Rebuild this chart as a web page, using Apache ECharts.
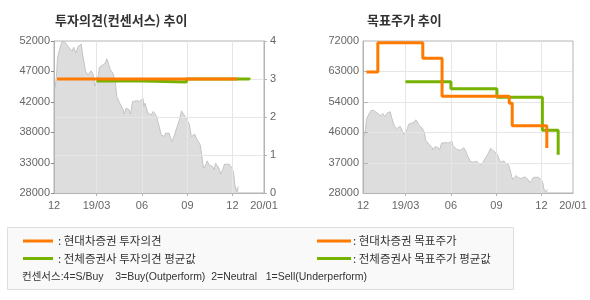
<!DOCTYPE html>
<html><head><meta charset="utf-8">
<script src="https://cdn.jsdelivr.net/npm/echarts@6/dist/echarts.min.js"></script>
<style>html,body{margin:0;padding:0;background:#fff}#c{width:590px;height:300px}</style>
</head><body><div id="c"></div>
<script>
// ---- data ----
const priceDates = ['2018-12-07','2018-12-10','2018-12-12','2018-12-17','2018-12-21','2018-12-26','2018-12-31','2019-01-04','2019-01-10','2019-01-14','2019-01-18','2019-01-23','2019-01-29','2019-02-01','2019-02-07','2019-02-12','2019-02-18','2019-02-22','2019-02-26','2019-03-01','2019-03-05','2019-03-07','2019-03-14','2019-03-19','2019-03-22','2019-03-26','2019-03-29','2019-04-03','2019-04-08','2019-04-11','2019-04-17','2019-04-24','2019-04-26','2019-04-30','2019-05-06','2019-05-09','2019-05-13','2019-05-17','2019-05-22','2019-05-27','2019-06-03','2019-06-05','2019-06-07','2019-06-13','2019-06-17','2019-06-20','2019-06-24','2019-06-27','2019-07-01','2019-07-03','2019-07-05','2019-07-10','2019-07-12','2019-07-16','2019-07-19','2019-07-23','2019-07-26','2019-07-31','2019-08-05','2019-08-09','2019-08-13','2019-08-16','2019-08-20','2019-08-23','2019-08-27','2019-08-30','2019-09-02','2019-09-05','2019-09-09','2019-09-11','2019-09-16','2019-09-19','2019-09-23','2019-09-25','2019-09-27','2019-09-30','2019-10-02','2019-10-04','2019-10-08','2019-10-11','2019-10-15','2019-10-18','2019-10-22','2019-10-25','2019-10-28','2019-11-01','2019-11-04','2019-11-07','2019-11-11','2019-11-15','2019-11-19','2019-11-25','2019-11-28','2019-12-02','2019-12-04','2019-12-06','2019-12-10','2019-12-12','2019-12-13'];
const priceValues = [44560,46410,49310,50890,51840,51950,51420,51680,50370,51000,50100,51160,51520,49830,47200,46670,47300,46780,44900,45620,46670,47840,48250,48520,49200,48250,47460,46940,45620,43250,42190,41130,40450,41400,41130,40450,42460,42190,42560,42460,42980,41670,42190,40610,40340,40340,40880,41130,40090,39300,38760,37180,37440,36920,37440,37180,37440,36130,36920,37970,38240,39550,40970,40610,40090,39820,39300,38760,36920,37180,37290,36650,36130,36230,35590,34010,32700,31910,32430,33060,32430,32700,32180,31640,32700,32970,31910,30960,31640,32540,32700,32540,32180,31640,30850,29270,28220,28470,29010];

const opinionDates = ['2018-12-11','2019-12-11'];
const opinionValues = [3, 3];
const avgOpinionDates = ['2019-03-01','2019-06-02','2019-08-30','2020-01-04'];
const avgOpinionValues = [2.95, 2.92, 3.0, 3.03];

const targetDates = ['2018-12-12','2019-01-04','2019-04-05','2019-05-14','2019-09-27','2019-10-03','2019-12-12'];
const targetValues = [63000, 71500, 67000, 56000, 54000, 47500, 41000];
const avgTargetDates = ['2019-03-01','2019-06-01','2019-09-02','2019-12-03','2020-01-04'];
const avgTargetValues = [60200, 58200, 55700, 46200, 39100];

const xStartDate = '2018-12-05';
const xEndDate = '2020-02-03';
const xGridDates = ['2019-03-01','2019-06-01','2019-09-01','2019-12-01'];
const xLabelDates = ['2018-12-05','2019-03-01','2019-06-01','2019-09-01','2019-12-01','2020-02-03'];
const xLabelTexts = ['12','19/03','06','09','12','20/01'];
const priceTicksLeft = [28000, 32800, 37600, 42400, 47200, 52000];
const opinionTicks = [0, 1, 2, 3, 4];
const priceTicksRight = [28000, 36800, 45600, 54400, 63200, 72000];

const titleLeft = '투자의견(컨센서스) 추이';
const titleRight = '목표주가 추이';
const legendTexts = [': 현대차증권 투자의견', ': 전체증권사 투자의견 평균값', ': 현대차증권 목표주가', ': 전체증권사 목표주가 평균값'];
const consensusNote = '컨센서스:4=S/Buy    3=Buy(Outperform)  2=Neutral   1=Sell(Underperform)';

// ---- helpers ----
const BASE = Date.UTC(2018, 11, 1);
function day(s) { const p = s.split('-').map(Number); return (Date.UTC(p[0], p[1] - 1, p[2]) - BASE) / 86400000; }
function pairs(ds, vs) { return ds.map((d, i) => [day(d), vs[i]]); }
const labelMap = {};
xLabelDates.forEach((d, i) => { labelMap[day(d)] = xLabelTexts[i]; });

const ORANGE = '#ff7a00', GREEN = '#76b300';
const AXIS = '#b4b4b4', GRIDC = '#e6e6e6', LBL = '#666', AREA = '#dddddd';
const FONT_NUM = '"Liberation Sans", Arial, sans-serif';
const FONT_KR = '"Noto Sans CJK KR", sans-serif';

function xAxisCfg(gi) {
  return {
    type: 'value', gridIndex: gi, min: day(xStartDate), max: day(xEndDate),
    axisLine: { show: true, lineStyle: { color: AXIS } },
    axisTick: { show: false },
    splitLine: { show: false },
    axisLabel: { customValues: xLabelDates.map(day), color: LBL, fontSize: 11, fontFamily: FONT_NUM, margin: 7,
      formatter: v => labelMap[v] !== undefined ? labelMap[v] : '' }
  };
}
const fmtK = v => String(Math.round(v / 1000) * 1000);
function yAxisCfg(gi, pos, ticks, margin, fmt) {
  return { type: 'value', gridIndex: gi, position: pos, min: ticks[0], max: ticks[ticks.length - 1],
    interval: ticks[1] - ticks[0],
    axisLine: { show: true, lineStyle: { color: AXIS } },
    axisTick: { show: false }, splitLine: { show: false },
    axisLabel: { color: LBL, fontSize: 11, fontFamily: FONT_NUM, margin: margin, formatter: fmt } };
}

const price = pairs(priceDates, priceValues);
function priceSeries(xi, yi) {
  return { type: 'line', xAxisIndex: xi, yAxisIndex: yi, data: price, symbol: 'none', z: 1, silent: true,
    lineStyle: { color: '#c4c4c4', width: 1 }, areaStyle: { color: AREA, opacity: 1 } };
}
function stepSeries(xi, yi, data, color, z) {
  return { type: 'line', xAxisIndex: xi, yAxisIndex: yi, data: data, step: 'end', symbol: 'none', z: z,
    lineStyle: { color: color, width: 3, cap: 'butt' } };
}

const legendFont = '11.5px ' + FONT_KR;
const baseGraphic = [
  { type: 'text', left: 55, top: 14, style: { text: titleLeft, font: 'bold 13px ' + FONT_KR, fill: '#333' } },
  { type: 'text', left: 367, top: 14, style: { text: titleRight, font: 'bold 13px ' + FONT_KR, fill: '#333' } },
  { type: 'rect', shape: { x: 7.5, y: 227.5, width: 506, height: 62 }, style: { fill: '#f9f9f9', stroke: '#dedede', lineWidth: 1 } },
  { type: 'line', shape: { x1: 23, y1: 241, x2: 53, y2: 241 }, style: { stroke: ORANGE, lineWidth: 3 } },
  { type: 'line', shape: { x1: 23, y1: 258.5, x2: 53, y2: 258.5 }, style: { stroke: GREEN, lineWidth: 3 } },
  { type: 'line', shape: { x1: 317, y1: 241, x2: 351, y2: 241 }, style: { stroke: ORANGE, lineWidth: 3 } },
  { type: 'line', shape: { x1: 317, y1: 258.5, x2: 351, y2: 258.5 }, style: { stroke: GREEN, lineWidth: 3 } },
  { type: 'text', x: 58, y: 241, style: { text: legendTexts[0], font: legendFont, fill: '#333', verticalAlign: 'middle' } },
  { type: 'text', x: 58, y: 258.5, style: { text: legendTexts[1], font: legendFont, fill: '#333', verticalAlign: 'middle' } },
  { type: 'text', x: 353, y: 241, style: { text: legendTexts[2], font: legendFont, fill: '#333', verticalAlign: 'middle' } },
  { type: 'text', x: 353, y: 258.5, style: { text: legendTexts[3], font: legendFont, fill: '#333', verticalAlign: 'middle' } },
  { type: 'text', x: 22, y: 277.5, style: { text: consensusNote, font: '10.5px "Liberation Sans", ' + FONT_KR, fill: '#333', verticalAlign: 'middle' } }
];

const option = {
  animation: false,
  grid: [
    { left: 54, top: 41, width: 210, height: 152, show: true, borderColor: AXIS, borderWidth: 1, backgroundColor: 'transparent' },
    { left: 363, top: 41, width: 210, height: 152, show: true, borderColor: AXIS, borderWidth: 1, backgroundColor: 'transparent' }
  ],
  xAxis: [xAxisCfg(0), xAxisCfg(1)],
  yAxis: [
    yAxisCfg(0, 'left', priceTicksLeft, 4, fmtK),
    yAxisCfg(0, 'right', opinionTicks, 6, undefined),
    yAxisCfg(1, 'left', priceTicksRight, 4, fmtK)
  ],
  series: [
    priceSeries(0, 0),
    stepSeries(0, 1, pairs(avgOpinionDates, avgOpinionValues), GREEN, 3),
    stepSeries(0, 1, pairs(opinionDates, opinionValues), ORANGE, 4),
    priceSeries(1, 2),
    stepSeries(1, 2, pairs(avgTargetDates, avgTargetValues), GREEN, 3),
    stepSeries(1, 2, pairs(targetDates, targetValues), ORANGE, 4)
  ],
  graphic: baseGraphic
};
const chart = echarts.init(document.getElementById('c'), null, { renderer: 'canvas' });
chart.setOption(option);

// grid lines and tick marks, positioned through the axes' own scales
const extra = [];
const px = (f) => Math.round(f) + 0.5;
function seg(x1, y1, x2, y2, color) {
  extra.push({ type: 'line', z: 2, silent: true, shape: { x1: x1, y1: y1, x2: x2, y2: y2 }, style: { stroke: color, lineWidth: 1 } });
}
const grids = [
  { xi: 0, yi: 1, yTicks: opinionTicks, tickYi: [0, 1] },
  { xi: 1, yi: 2, yTicks: priceTicksRight, tickYi: [2] }
];
grids.forEach(g => {
  const xl = chart.convertToPixel({ xAxisIndex: g.xi }, day(xStartDate));
  const xr = chart.convertToPixel({ xAxisIndex: g.xi }, day(xEndDate));
  const yb = chart.convertToPixel({ yAxisIndex: g.yi }, g.yTicks[0]);
  const yt = chart.convertToPixel({ yAxisIndex: g.yi }, g.yTicks[g.yTicks.length - 1]);
  xGridDates.forEach(d => {
    const x = px(chart.convertToPixel({ xAxisIndex: g.xi }, day(d)));
    seg(x, yt, x, yb, GRIDC);
    seg(x, yb, x, yb + 3, AXIS);
  });
  g.yTicks.slice(1, -1).forEach(v => {
    const y = px(chart.convertToPixel({ yAxisIndex: g.yi }, v));
    seg(xl + 1, y, xr - 1, y, GRIDC);
  });
});
// y-axis tick marks
priceTicksLeft.forEach(v => { const y = px(chart.convertToPixel({ yAxisIndex: 0 }, v)); const x = chart.convertToPixel({ xAxisIndex: 0 }, day(xStartDate)); seg(x - 3, y, x, y, '#888'); });
opinionTicks.forEach(v => { const y = px(chart.convertToPixel({ yAxisIndex: 1 }, v)); const x = chart.convertToPixel({ xAxisIndex: 0 }, day(xEndDate)); seg(x, y, x + 3, y, AXIS); });
priceTicksRight.slice(1, -1).forEach(v => { const y = px(chart.convertToPixel({ yAxisIndex: 2 }, v)); const x = chart.convertToPixel({ xAxisIndex: 1 }, day(xStartDate)); seg(x, y, x + 5, y, AXIS); });

chart.setOption({ graphic: baseGraphic.concat(extra) });
</script></body></html>
